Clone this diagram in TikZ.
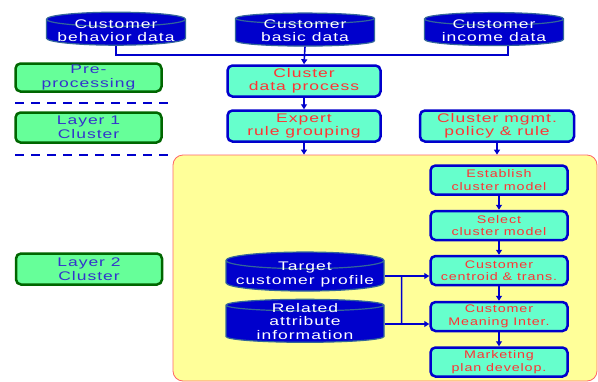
\documentclass[tikz,border=0pt]{standalone}
\usepackage{fontspec}
\newfontfamily\figfont[FakeStretch=1.4,LetterSpace=8]{Liberation Sans}
\newfontfamily\stepfont[FakeStretch=1.3,LetterSpace=8]{Liberation Sans}
\usetikzlibrary{shapes.geometric,arrows.meta}

\definecolor{dbblue}{HTML}{0000CC}
\definecolor{cylrim}{HTML}{336699}
\definecolor{layergreen}{HTML}{006600}
\definecolor{layerfill}{HTML}{66FF99}
\definecolor{layertext}{HTML}{3333CC}
\definecolor{procfill}{HTML}{66FFCC}
\definecolor{proctext}{HTML}{FF3333}
\definecolor{zonefill}{HTML}{FFFF99}
\definecolor{zonerim}{HTML}{FF6666}

% text of a data store, kept out of the shape size
\newcommand{\dbtext}[2][-6pt]{\raisebox{#1}{\smash{\begin{tabular}{@{}c@{}}#2\end{tabular}}}}

\tikzstyle{every node}=[font=\figfont\fontsize{12.5}{13.5}\selectfont,align=center,inner sep=0pt]
\tikzstyle{database}=[cylinder,shape border rotate=90,aspect=0.12,draw=cylrim,line width=1.2pt,fill=dbblue,text=white]
\tikzstyle{layerbox}=[rectangle,rounded corners=5pt,draw=layergreen,line width=2.5pt,fill=layerfill,text=layertext,minimum width=146pt]
\tikzstyle{procbox}=[rectangle,rounded corners=5pt,draw=dbblue,line width=2.5pt,fill=procfill,text=proctext]
\tikzstyle{stepbox}=[procbox,minimum width=137pt,minimum height=29pt,font=\stepfont\fontsize{11}{12.5}\selectfont]
\tikzstyle{zone}=[rectangle,rounded corners=10pt,draw=zonerim,line width=0.8pt,fill=zonefill]
\tikzstyle{link}=[draw=dbblue,line width=1.6pt]
\tikzstyle{flow}=[link,-{Triangle[length=5pt,width=6pt]}]
\tikzstyle{separator}=[draw=dbblue,line width=2pt,dash pattern=on 9pt off 7pt]

\begin{document}
\begin{tikzpicture}[x=1pt,y=-1pt]
  \useasboundingbox (0,0) rectangle (598,381);

  \node[zone,minimum width=424pt,minimum height=226pt] (l2zone) at (385,268) {};

  % data sources
  \node[database,minimum width=139pt,minimum height=33pt] (beh) at (116,32.5) {\dbtext{Customer\\behavior data}};
  \node[database,minimum width=139pt,minimum height=33pt] (bas) at (305,32.5) {\dbtext{Customer\\basic data}};
  \node[database,minimum width=139pt,minimum height=33pt] (inc) at (494,32.5) {\dbtext{Customer\\income data}};
  \coordinate (incdrop) at ([xshift=14pt]inc.south);

  % layer labels
  \node[layerbox,minimum height=28pt] (pre) at (88.5,77.5) {Pre-\\processing};
  \node[layerbox,minimum height=30pt] (lay1) at (88.5,127.5) {Layer 1\\Cluster};
  \node[layerbox,minimum height=31pt] (lay2) at (89,269) {Layer 2\\Cluster};
  \draw[separator] (15,103) -- (172,103);
  \draw[separator] (15,155) -- (172,155);

  \node[procbox,minimum width=153pt,minimum height=31pt] (cdp) at (304,81) {Cluster\\data process};
  \node[procbox,minimum width=153pt,minimum height=31pt] (erg) at (304,126) {Expert\\rule grouping};
  \node[procbox,minimum width=154pt,minimum height=31pt] (mgmt) at (497,126) {Cluster mgmt.\\policy \& rule};

  \node[stepbox] (est) at (499,180) {Establish\\cluster model};
  \node[stepbox] (sel) at (499,225.5) {Select\\cluster model};
  \node[stepbox] (ctr) at (499,270.5) {Customer\\centroid \& trans.};
  \node[stepbox] (mean) at (499,316.5) {Customer\\Meaning Inter.};
  \node[stepbox] (mkt) at (499,362) {Marketing\\plan develop.};

  \node[database,minimum width=158pt,minimum height=39pt] (tgt) at (305,276) {\dbtext[-4pt]{Target\\customer profile}};
  \node[database,minimum width=158pt,minimum height=43pt] (rel) at (305,324) {\dbtext[-4pt]{Related\\attribute\\information}};

  \draw[link] (beh.south) -- ++(0,9) -| (incdrop);
  \draw[flow] (bas.south) -- (cdp.north);
  \draw[flow] (cdp.south) -- (erg.north);
  \draw[flow] (erg.south) -- (erg.south |- l2zone.north);
  \draw[flow,line width=1.2pt] (mgmt.south) -- (mgmt.south |- l2zone.north);

  \draw[flow] (est) -- (sel);
  \draw[flow] (sel) -- (ctr);
  \draw[flow] (ctr) -- (mean);
  \draw[flow] (mean) -- (mkt);

  \draw[flow] (tgt.east) -- (tgt.east -| ctr.west);
  \draw[flow] (rel.east) -- (rel.east -| mean.west);
  \draw[link] ([xshift=17pt]tgt.east) -- ([xshift=17pt]rel.east);
\end{tikzpicture}
\end{document}
